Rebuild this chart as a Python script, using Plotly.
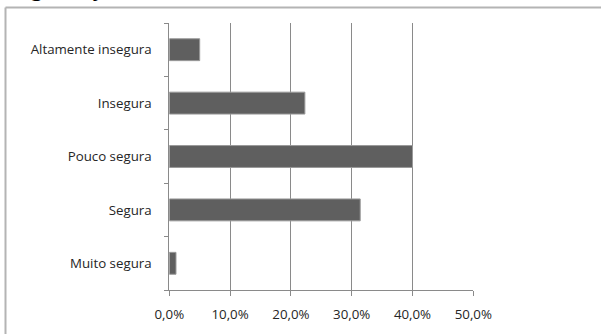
import plotly.graph_objects as go

# Perceived safety, share of responses (%)
categories = ["Muito segura", "Segura", "Pouco segura", "Insegura", "Altamente insegura"]
values = [1.1, 31.4, 40.0, 22.3, 5.0]
x_ticks = [0, 10, 20, 30, 40, 50]
x_tick_labels = ["0,0%", "10,0%", "20,0%", "30,0%", "40,0%", "50,0%"]

W, H = 601, 334
GRID = "#8a8a8a"
FONT = "Open Sans"

fig = go.Figure(
    go.Bar(
        x=values,
        y=categories,
        orientation="h",
        width=0.41,
        marker=dict(color="#5f5f5f", line=dict(color="#9a9a9a", width=1)),
        hoverinfo="x+y",
    )
)

fig.update_layout(
    width=W,
    height=H,
    margin=dict(l=0, r=0, t=0, b=0, autoexpand=False),
    paper_bgcolor="white",
    plot_bgcolor="white",
    showlegend=False,
    font=dict(family=FONT, size=13.3, color="#262626"),
    xaxis=dict(
        domain=[169.3 / W, 473.3 / W],
        range=[0, 50],
        tickvals=x_ticks,
        ticktext=x_tick_labels,
        showgrid=True,
        gridcolor=GRID,
        gridwidth=1,
        showline=True,
        linecolor=GRID,
        linewidth=1,
        ticks="outside",
        ticklen=5,
        tickcolor=GRID,
        ticklabelstandoff=7,
        zeroline=False,
        automargin=False,
        fixedrange=True,
    ),
    yaxis=dict(
        domain=[1 - 290 / H, 1 - 23 / H],
        categoryorder="array",
        categoryarray=categories,
        showgrid=False,
        showline=True,
        linecolor=GRID,
        linewidth=1,
        ticks="outside",
        tickson="boundaries",
        ticklen=4,
        tickcolor=GRID,
        ticklabelstandoff=14,
        zeroline=False,
        automargin=False,
        fixedrange=True,
    ),
    shapes=[
        # frame of the chart box (top and left edges)
        dict(type="line", xref="paper", yref="paper",
             x0=5.5 / W, x1=1.0, y0=1 - 7.5 / H, y1=1 - 7.5 / H,
             line=dict(color="#b4b4b4", width=2)),
        dict(type="line", xref="paper", yref="paper",
             x0=5.5 / W, x1=5.5 / W, y0=0, y1=1 - 7.5 / H,
             line=dict(color="#b4b4b4", width=2)),
    ],
    annotations=[
        dict(text="Segurança", xref="paper", yref="paper",
             x=2 / W, y=1 + 12.3 / H, xanchor="left", yanchor="middle",
             showarrow=False,
             font=dict(family="Liberation Serif", size=26, color="black")),
    ],
)

fig.write_html("out.html")
